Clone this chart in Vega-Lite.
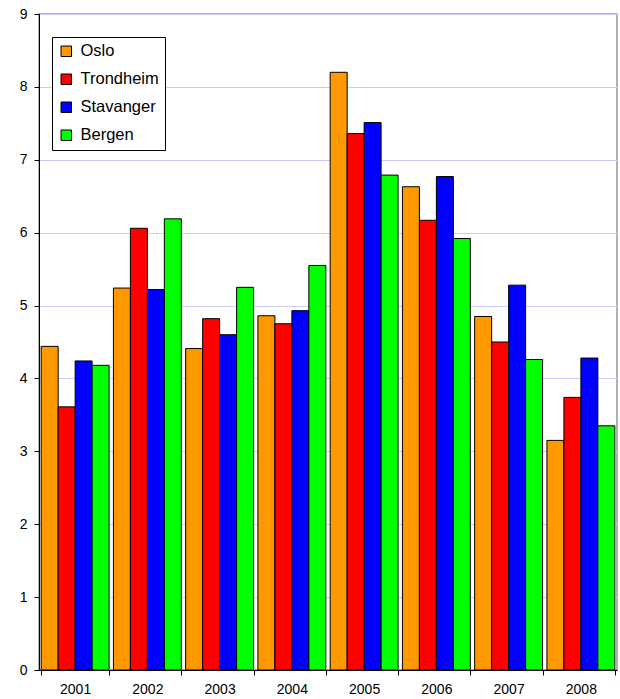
{
  "$schema": "https://vega.github.io/schema/vega-lite/v6.json",
  "autosize": {"type": "none"},
  "padding": {"left": 39, "top": 14, "right": 3, "bottom": 29},
  "width": 578,
  "height": 656,
  "background": "white",
  "config": {
    "font": "Liberation Sans",
    "view": {"stroke": "#999999", "strokeWidth": 1.5}
  },
  "data": {
    "values": [
      {"year": "2001", "city": "Oslo", "value": 4.44},
      {"year": "2001", "city": "Trondheim", "value": 3.61},
      {"year": "2001", "city": "Stavanger", "value": 4.24},
      {"year": "2001", "city": "Bergen", "value": 4.18},
      {"year": "2002", "city": "Oslo", "value": 5.24},
      {"year": "2002", "city": "Trondheim", "value": 6.06},
      {"year": "2002", "city": "Stavanger", "value": 5.22},
      {"year": "2002", "city": "Bergen", "value": 6.19},
      {"year": "2003", "city": "Oslo", "value": 4.41},
      {"year": "2003", "city": "Trondheim", "value": 4.82},
      {"year": "2003", "city": "Stavanger", "value": 4.60},
      {"year": "2003", "city": "Bergen", "value": 5.25},
      {"year": "2004", "city": "Oslo", "value": 4.86},
      {"year": "2004", "city": "Trondheim", "value": 4.75},
      {"year": "2004", "city": "Stavanger", "value": 4.93},
      {"year": "2004", "city": "Bergen", "value": 5.55},
      {"year": "2005", "city": "Oslo", "value": 8.20},
      {"year": "2005", "city": "Trondheim", "value": 7.36},
      {"year": "2005", "city": "Stavanger", "value": 7.51},
      {"year": "2005", "city": "Bergen", "value": 6.79},
      {"year": "2006", "city": "Oslo", "value": 6.63},
      {"year": "2006", "city": "Trondheim", "value": 6.17},
      {"year": "2006", "city": "Stavanger", "value": 6.77},
      {"year": "2006", "city": "Bergen", "value": 5.92},
      {"year": "2007", "city": "Oslo", "value": 4.85},
      {"year": "2007", "city": "Trondheim", "value": 4.50},
      {"year": "2007", "city": "Stavanger", "value": 5.28},
      {"year": "2007", "city": "Bergen", "value": 4.26},
      {"year": "2008", "city": "Oslo", "value": 3.15},
      {"year": "2008", "city": "Trondheim", "value": 3.74},
      {"year": "2008", "city": "Stavanger", "value": 4.28},
      {"year": "2008", "city": "Bergen", "value": 3.35}
    ]
  },
  "mark": {"type": "bar", "stroke": "black", "strokeWidth": 1},
  "encoding": {
    "x": {
      "field": "year", "type": "nominal",
      "scale": {"paddingInner": 0.06, "paddingOuter": 0.03},
      "axis": {
        "title": null, "labelAngle": 0, "tickBand": "extent",
        "domainColor": "black", "tickColor": "black", "tickSize": 5,
        "labelColor": "black", "labelFontSize": 14, "labelPadding": 7
      }
    },
    "xOffset": {
      "field": "city", "type": "nominal",
      "sort": ["Oslo", "Trondheim", "Stavanger", "Bergen"],
      "scale": {"paddingInner": 0, "paddingOuter": 0}
    },
    "y": {
      "field": "value", "type": "quantitative",
      "scale": {"domain": [0, 9], "nice": false},
      "axis": {
        "title": null, "values": [0,1,2,3,4,5,6,7,8,9],
        "gridColor": "#ccccff", "gridWidth": 1,
        "domainColor": "black", "tickColor": "black", "tickSize": 5,
        "labelColor": "black", "labelFontSize": 14, "labelPadding": 7
      }
    },
    "color": {
      "field": "city", "type": "nominal",
      "sort": ["Oslo", "Trondheim", "Stavanger", "Bergen"],
      "scale": {
        "domain": ["Oslo", "Trondheim", "Stavanger", "Bergen"],
        "range": ["#ff9900", "#ff0000", "#0000ff", "#00ff00"]
      },
      "legend": {
        "title": null, "orient": "none", "legendX": 13, "legendY": 23,
        "symbolType": "square", "symbolSize": 110, "symbolStrokeColor": "black",
        "symbolStrokeWidth": 1, "symbolOpacity": 1,
        "labelFontSize": 16.5, "labelColor": "black", "rowPadding": 11,
        "strokeColor": "black", "fillColor": "white", "padding": 6,
        "labelOffset": 6, "labelLimit": 300
      }
    }
  }
}
